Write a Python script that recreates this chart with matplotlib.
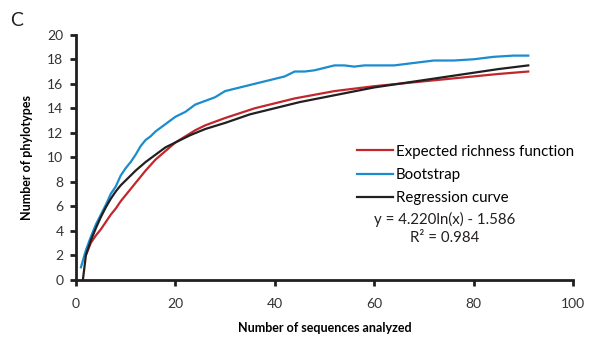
import matplotlib
matplotlib.use('Agg')
import matplotlib.pyplot as plt

boot_x = [1, 2, 3, 4, 5, 6, 7, 8, 9, 10, 11, 12, 13, 14, 15, 16, 18, 20, 22, 24, 26, 28,
          30, 33, 36, 39, 42, 44, 46, 48, 50, 52, 54, 56, 58, 60, 64, 68, 72, 76, 80, 84, 88, 91]
boot_y = [1.0, 2.4, 3.5, 4.5, 5.3, 6.1, 7.0, 7.6, 8.5, 9.1, 9.6, 10.2, 10.9, 11.4, 11.7, 12.1,
          12.7, 13.3, 13.7, 14.3, 14.6, 14.9, 15.4, 15.7, 16.0, 16.3, 16.6, 17.0, 17.0, 17.1,
          17.3, 17.5, 17.5, 17.4, 17.5, 17.5, 17.5, 17.7, 17.9, 17.9, 18.0, 18.2, 18.3, 18.3]

rich_x = [2, 3, 4, 5, 6, 7, 8, 9, 10, 12, 14, 16, 18, 20, 22, 24, 26, 28, 30, 33, 36, 40,
          44, 48, 52, 56, 60, 65, 70, 75, 80, 85, 91]
rich_y = [2.0, 3.0, 3.6, 4.1, 4.7, 5.3, 5.8, 6.4, 6.9, 7.9, 8.9, 9.8, 10.5, 11.2, 11.7, 12.2,
          12.6, 12.9, 13.2, 13.6, 14.0, 14.4, 14.8, 15.1, 15.4, 15.6, 15.8, 16.0, 16.2, 16.4,
          16.6, 16.8, 17.0]

reg_x = [1.4, 2, 3, 4, 5, 6, 7, 8, 9, 10, 12, 14, 16, 18, 20, 23, 26, 30, 35, 40, 45, 50,
         55, 60, 65, 70, 75, 80, 85, 91]
reg_y = [0.0, 2.0, 3.2, 4.2, 5.1, 5.9, 6.6, 7.2, 7.7, 8.1, 8.9, 9.6, 10.2, 10.8, 11.2, 11.8,
         12.3, 12.8, 13.5, 14.0, 14.5, 14.9, 15.3, 15.7, 16.0, 16.3, 16.6, 16.9, 17.2, 17.5]

x_ticks = [0, 20, 40, 60, 80, 100]
y_ticks = [0, 2, 4, 6, 8, 10, 12, 14, 16, 18, 20]

plt.rcParams['font.family'] = ['Lato', 'DejaVu Sans']
dark = '#231F20'

fig = plt.figure(figsize=(5.95, 3.38), dpi=100)
ax = fig.add_axes([0.1277, 0.173, 0.8353, 0.724])

ax.plot(rich_x, rich_y, color='#C1272D', lw=1.6, label='Expected richness function')
ax.plot(boot_x, boot_y, color='#1A8CCF', lw=1.6, label='Bootstrap')
ax.plot(reg_x, reg_y, color=dark, lw=1.6, label='Regression curve')

ax.set_xlim(0, 100)
ax.set_ylim(0, 20)
ax.set_xticks(x_ticks)
ax.set_yticks(y_ticks)
for s in ['top', 'right']:
    ax.spines[s].set_visible(False)
for s in ['left', 'bottom']:
    ax.spines[s].set_linewidth(2)
    ax.spines[s].set_color(dark)
ax.tick_params(direction='out', length=4, width=2, color=dark,
               labelsize=10, labelcolor='#333333', pad=5)
ax.tick_params(axis='x', pad=9)

ax.set_xlabel('Number of sequences analyzed', fontsize=9, fontweight='bold', labelpad=9)
ax.set_ylabel('Number of phylotypes', fontsize=9, fontweight='bold', labelpad=10)

ax.legend(loc='upper left', bbox_to_anchor=(0.6, 0.572), bbox_transform=fig.transFigure,
          frameon=False, fontsize=10.8, handlelength=2.4, handletextpad=0.2,
          labelspacing=0.62, borderpad=0, borderaxespad=0)

fig.text(0.748, 0.352, 'y = 4.220ln(x) - 1.586', ha='center', va='center', fontsize=10.8,
         color=dark)
fig.text(0.748, 0.296, 'R² = 0.984', ha='center', va='center', fontsize=10.8, color=dark)
fig.text(0.017, 0.94, 'C', fontsize=14, color=dark, va='center')

fig.savefig('out.png', dpi=100)
